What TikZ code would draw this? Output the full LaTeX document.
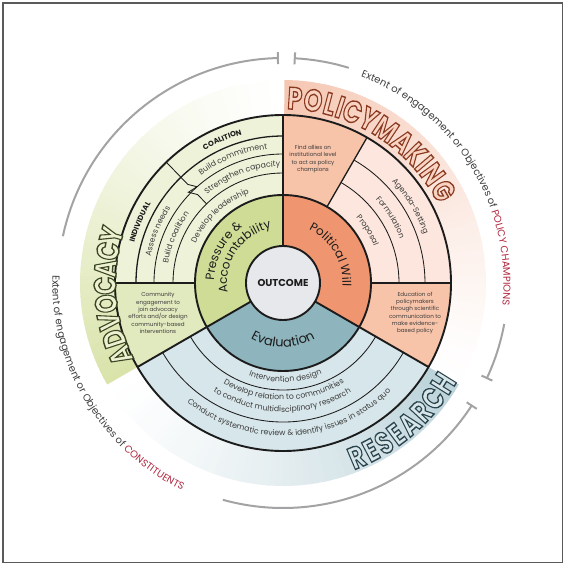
\documentclass[tikz,border=0pt]{standalone}
\usepackage{fontspec}
\setmainfont{Poppins}
\usetikzlibrary{calc,decorations.text}

\definecolor{ink}{HTML}{1C1C1C}
\definecolor{txt}{HTML}{3C3C3C}
\definecolor{redtxt}{HTML}{B0263E}
\definecolor{bracketgray}{HTML}{A3A3A5}
\definecolor{framegray}{HTML}{5A5A5A}
\definecolor{pressure}{HTML}{CEDC96}
\definecolor{politic}{HTML}{EF9670}
\definecolor{evalteal}{HTML}{8EB4BD}
\definecolor{outcome}{HTML}{E7E8EC}
\definecolor{advring}{HTML}{EEF2D8}
\definecolor{advbox}{HTML}{E1E9BE}
\definecolor{advband}{HTML}{D9E3AA}
\definecolor{pmbox}{HTML}{F7C3A9}
\definecolor{pmring}{HTML}{FCE6DD}
\definecolor{pmband}{HTML}{F5C6B1}
\definecolor{resring}{HTML}{D7E6EB}
\definecolor{resband}{HTML}{BCD3DA}
\definecolor{pmfill}{HTML}{F8D3C2}
\definecolor{advfill}{HTML}{EDF1D1}
\definecolor{resfill}{HTML}{D8E6EA}

\newcommand\boxfont{\fontsize{5.6}{7.3}\selectfont}
\newcommand\bandfont{\fontsize{7.8}{9}\selectfont\color{txt}}
\newcommand\capfont{\fontsize{7.4}{9}\selectfont\bfseries\color{ink}}
\newcommand\corefont{\fontsize{12}{14}\selectfont\color{ink}}
\newcommand\evalfont{\fontsize{13}{15}\selectfont\color{ink}}
\newcommand\outerfont{\fontsize{10}{12}\selectfont\color{txt}}
\newcommand\titlefont{\fontsize{31}{31}\selectfont\bfseries}
% outlined letter: stroke colour (rgb), letter
\newcommand\hollowchar[2]{\special{pdf:literal direct #1 RG 1.4 w 2 Tr}#2\special{pdf:literal direct 0 Tr}}
\newcommand\pmchar[1]{\scalebox{0.76}[1]{\hollowchar{0.545 0.227 0.133}{#1}}}
\newcommand\advchar[1]{\scalebox{0.76}[1]{\hollowchar{0.23 0.28 0.14}{#1}}}
\newcommand\reschar[1]{\scalebox{0.76}[1]{\hollowchar{0.17 0.27 0.31}{#1}}}

% filled piece of a ring: inner r, outer r, from angle, to angle, colour
\newcommand\ringpart[5]{\fill[fill=#5] (#3:#1) arc[start angle=#3, end angle=#4, radius=#1]
  -- (#4:#2) arc[start angle=#4, end angle=#3, radius=#2] -- cycle;}
% text on an arc: centre angle, baseline radius, half span, text
\newcommand\cwlabel[4]{\path[decorate, decoration={text along path, text align=center, text={#4}}]
  ({#1+#3}:#2) arc[start angle={#1+#3}, end angle={#1-#3}, radius=#2];}
\newcommand\ccwlabel[4]{\path[decorate, decoration={text along path, text align=center, text={#4}}]
  ({#1-#3}:#2) arc[start angle={#1-#3}, end angle={#1+#3}, radius=#2];}

\tikzset{
  ringline/.style={draw=ink, line width=1.9pt},
  splitline/.style={draw=ink, line width=1.3pt},
  fineline/.style={draw=ink, line width=0.85pt},
  bracket/.style={draw=bracketgray, line width=2pt},
  boxtext/.style={text=txt, font=\boxfont, align=center, inner sep=0pt},
  titlechar/.style={font=\titlefont, inner sep=0pt},
}

\begin{document}
\begin{tikzpicture}[x=1pt, y=1pt]
\useasboundingbox (-283,-283) rectangle (283,283);

% colour bands outside the ring, fading clockwise
\foreach \col/\start in {pmband/90, resband/330, advband/210} {
  \foreach \i in {0,...,59} {
    \pgfmathsetmacro\aa{\start-2*\i}
    \pgfmathsetmacro\ab{\aa-2.4}
    \pgfmathtruncatemacro\pct{100*(1-\i/60)^1.3}
    \ringpart{168}{203}{\aa}{\ab}{\col!\pct!white}
  }
}

% outer ring
\ringpart{88}{168}{90}{180}{advring}
\ringpart{88}{168}{180}{210}{advbox}
\ringpart{88}{168}{0}{60}{pmring}
\ringpart{88}{168}{60}{90}{pmbox}
\ringpart{88}{168}{-30}{0}{pmbox}
\ringpart{88}{168}{210}{330}{resring}
% inner ring
\ringpart{37}{88}{90}{210}{pressure}
\ringpart{37}{88}{-30}{90}{politic}
\ringpart{37}{88}{210}{330}{evalteal}

% band arcs
\draw[splitline] (90:147) arc[start angle=90, end angle=180, radius=147];
\foreach \r in {110,129} \draw[fineline] (90:\r) arc[start angle=90, end angle=180, radius=\r];
\foreach \r in {116,142} \draw[fineline] (0:\r) arc[start angle=0, end angle=60, radius=\r];
\foreach \r in {107,139} \draw[fineline] (210:\r) arc[start angle=210, end angle=330, radius=\r];
\draw[fineline] (134:168) -- (134:137) -- ($(134:129)+(44:5)$) -- ($(134:131)+(224:5)$)
  -- (134:123) -- (134:110);

% circles and spokes
\draw[ringline] (0,0) circle (168);
\draw[ringline] (0,0) circle (88);
\foreach \a in {90,210,330} \draw[ringline] (\a:37) -- (\a:168);
\foreach \a in {0,60,180} \draw[splitline] (\a:88) -- (\a:168);
\node[circle, ringline, fill=outcome, minimum size=74, inner sep=0pt,
  font=\fontsize{10}{12}\selectfont\bfseries, text=ink] (outcome) at (0,0) {OUTCOME};

% box texts
\node[boxtext] (allies) at (30,124) {Find allies on\\institutional level\\to act as policy\\champions};
\node[boxtext] (educ) at (132,-30) {Education of\\policymakers\\through scientific\\communication to\\make evidence-\\based policy};
\node[boxtext] (community) at (-125,-30) {Community\\engagement to\\join advocacy\\efforts and/or design\\community-based\\interventions};

% advocacy bands
\cwlabel{113}{154}{40}{|\capfont|COALITION}
\cwlabel{112}{135}{40}{|\bandfont|Build commitment}
\cwlabel{111}{116.5}{40}{|\bandfont|Strengthen capacity}
\cwlabel{133}{96}{50}{|\bandfont|Develop leadership}
\cwlabel{157}{154}{30}{|\capfont|INDIVIDUAL}
\cwlabel{157.5}{135}{30}{|\bandfont|Assess needs}
\cwlabel{157}{116.5}{30}{|\bandfont|Build coalition}
% policymaking bands
\cwlabel{31}{149}{40}{|\bandfont|Agenda-Setting}
\cwlabel{31.4}{125}{40}{|\bandfont|Formulation}
\cwlabel{31.8}{98}{45}{|\bandfont|Proposal}
% core
\cwlabel{152}{69}{70}{|\corefont|Pressure {\&}}
\cwlabel{146}{56}{80}{|\corefont|Accountability}
\cwlabel{30.6}{59.5}{75}{|\corefont|Political Will}
\ccwlabel{270}{64}{70}{|\evalfont|Evaluation}
% research bands
\ccwlabel{271.5}{99}{45}{|\bandfont|Intervention design}
\ccwlabel{270.5}{117}{50}{|\bandfont|Develop relation to communities}
\ccwlabel{269.7}{129}{50}{|\bandfont|to conduct multidisciplinary research}
\ccwlabel{273}{153}{55}{|\bandfont|Conduct systematic review {\&} identify issues in status quo}

% titles
\foreach \ch/\ang [count=\k] in {P/86.3,O/80.62,L/75.37,I/71.99,C/67.91,Y/62.45,M/56.26,A/49.77,K/44.2,I/40.3,N/36.04,G/29.92}
  \node[titlechar, text=pmfill, rotate=\ang-90] (pm\k) at (\ang:185) {\pmchar{\ch}};
\foreach \ch/\ang [count=\k] in {A/204,D/198.2,V/192.47,O/186.67,C/180.87,A/175.26,C/169.65,Y/164.34}
  \node[titlechar, text=advfill, rotate=\ang-90] (adv\k) at (\ang:178) {\advchar{\ch}};
\foreach \ch/\ang [count=\k] in {R/-67,E/-62.28,S/-57.7,E/-53.12,A/-48.11,R/-42.82,C/-37.6,H/-31.98}
  \node[titlechar, text=resfill, rotate=\ang+90] (res\k) at (\ang:189) {\reschar{\ch}};

% brackets
\draw[bracket] (91.3:225) arc[start angle=91.3, end angle=168, radius=225];
\draw[bracket] (91.3:219) -- (91.3:231);
\draw[bracket] (254.5:225) arc[start angle=254.5, end angle=327, radius=225];
\draw[bracket] (327:219) -- (327:231);
\draw[bracket] (87:225) arc[start angle=87, end angle=73, radius=225];
\draw[bracket] (87:219) -- (87:231);
\draw[bracket] (349.5:225) arc[start angle=349.5, end angle=335, radius=225];
\draw[bracket] (335:219) -- (335:231);
\cwlabel{31.75}{220.5}{48}{|\outerfont|Extent of engagement or Objectives of |\outerfont\color{redtxt}|POLICY CHAMPIONS}
\ccwlabel{211}{230.5}{45}{|\outerfont|Extent of engagement or Objectives of |\outerfont\color{redtxt}|CONSTITUENTS}

% frame
\draw[framegray, line width=1.5pt] (-280,-279.5) rectangle (279.5,280);
\end{tikzpicture}
\end{document}
